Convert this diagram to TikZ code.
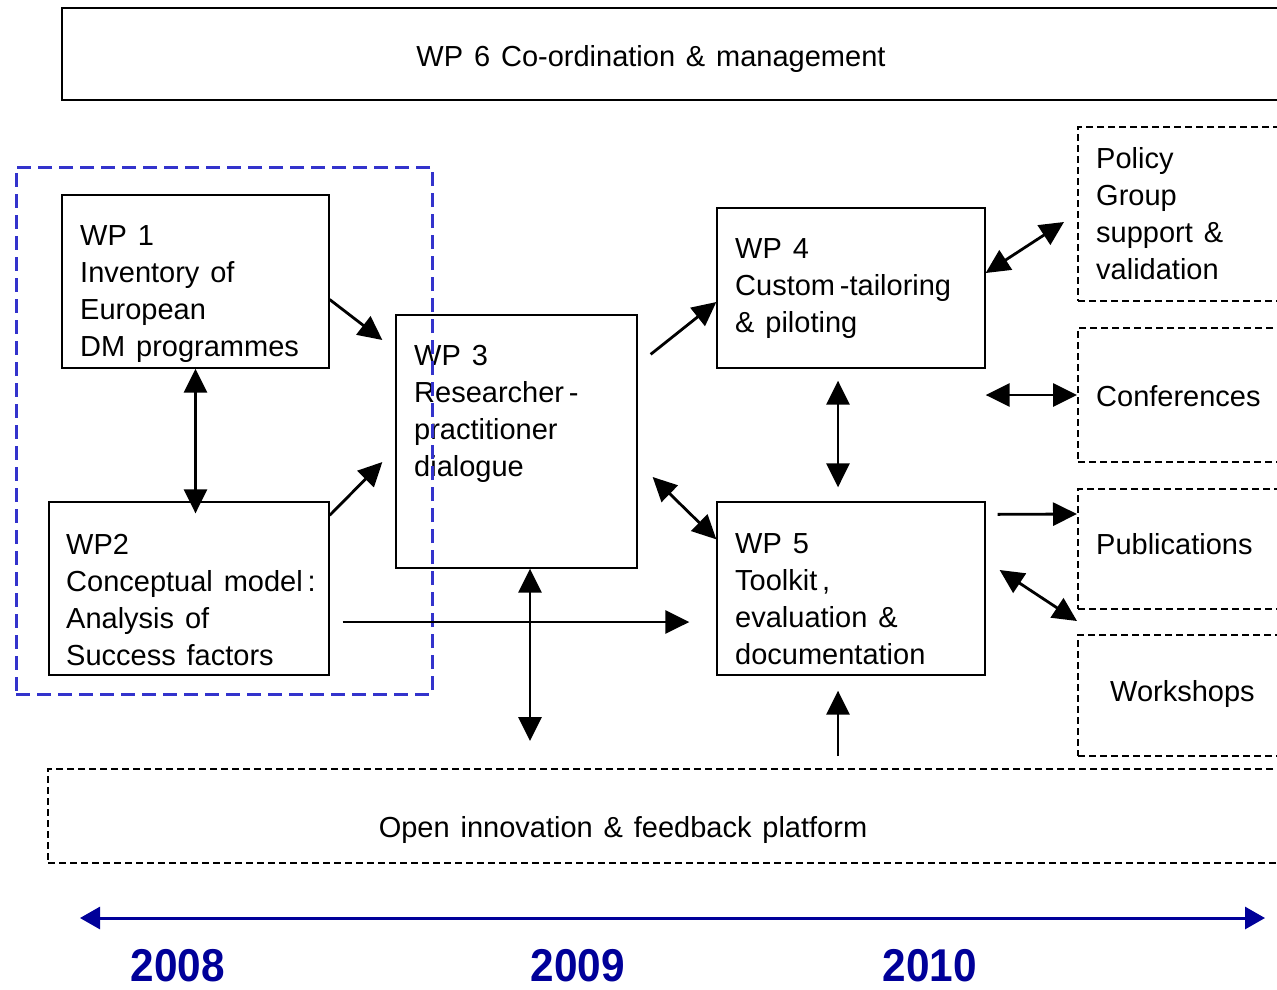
\documentclass[tikz,border=0pt]{standalone}
\usepackage{fontspec}
\setmainfont{Liberation Sans}[WordSpace=1.35]
\newfontfamily\yearfont{Liberation Sans}[FakeStretch=0.92]
\usetikzlibrary{arrows.meta, calc, positioning}
\definecolor{grpblue}{RGB}{51,51,204}
\definecolor{yearblue}{RGB}{0,0,153}
\tikzset{
  box/.style={draw, line width=1.3pt, fill=white, inner sep=0pt},
  dbox/.style={draw, line width=2pt, dash pattern=on 7pt off 4pt, inner sep=0pt},
  grpbox/.style={draw=grpblue, line width=3pt, dash pattern=on 14pt off 7pt, inner sep=0pt},
  wptext/.style={anchor=north west, inner sep=0pt, align=left, font=\fontsize{29}{37}\selectfont},
  onetext/.style={anchor=base west, inner sep=0pt, font=\fontsize{29}{37}\selectfont},
  arr/.style={line width=2.8pt, -{Triangle[length=24pt,width=23pt]}},
  darr/.style={line width=2.8pt, {Triangle[length=24pt,width=23pt]}-{Triangle[length=24pt,width=23pt]}},
  timeline/.style={draw=yearblue, line width=3pt, {Triangle[length=20pt,width=22pt]}-{Triangle[length=20pt,width=22pt]}},
  year/.style={anchor=base, inner sep=0pt, text=yearblue, font=\yearfont\bfseries\fontsize{46}{46}\selectfont}
}
\begin{document}
\begin{tikzpicture}[x=1pt,y=-1pt]
\useasboundingbox (0,0) rectangle (1277,989);
\node[box, minimum width=1228pt, minimum height=92pt] (wp6) at (676,54) {};
\node[onetext, anchor=base] (wp6txt) at (651,66.5) {WP 6 Co-ordination \& management};

\node[box, minimum width=267pt, minimum height=173pt] (wp1) at (195.5,281.5) {};
\node[wptext] (wp1txt) at (80,225) {WP 1\\Inventory of\\European\\DM programmes};
\node[box, minimum width=280pt, minimum height=173pt] (wp2) at (189,588.5) {};
\node[wptext] (wp2txt) at (66,534) {WP2\\Conceptual model\,:\\Analysis of\\Success factors};
\node[box, minimum width=241pt, minimum height=253pt] (wp3) at (516.5,441.5) {};
\node[wptext] (wp3txt) at (414,345.5) {WP 3\\Researcher\,-\\practitioner\\dialogue};
\node[box, minimum width=268pt, minimum height=160pt] (wp4) at (851,288) {};
\node[wptext] (wp4txt) at (735,238.5) {WP 4\\Custom\,-tailoring\\\& piloting};
\node[box, minimum width=268pt, minimum height=173pt] (wp5) at (851,588.5) {};
\node[wptext] (wp5txt) at (735,533.5) {WP 5\\Toolkit\,,\\evaluation \&\\documentation};

\node[grpbox, minimum width=416pt, minimum height=527pt] (grp) at (224,430.5) {};

\node[dbox, minimum width=212pt, minimum height=174pt] (policy) at (1184,214) {};
\node[wptext] (policytxt) at (1096,147.5) {Policy\\Group\\support \&\\validation};
\node[dbox, minimum width=212pt, minimum height=134pt] (conf) at (1184,395) {};
\node[onetext] (conftxt) at (1096,406.5) {Conferences};
\node[dbox, minimum width=212pt, minimum height=120pt] (publ) at (1184,549) {};
\node[onetext] (publtxt) at (1096,554.5) {Publications};
\node[dbox, minimum width=212pt, minimum height=121pt] (work) at (1184,695.5) {};
\node[onetext] (worktxt) at (1110,701.5) {Workshops};
\node[dbox, minimum width=1242pt, minimum height=94pt] (plat) at (669,816) {};
\node[onetext, anchor=base] (plattxt) at (623,837.5) {Open innovation \& feedback platform};

\draw[arr] ($(wp1.east)+(0,18)$) -- ($(wp3.west)+(-13,-101.5)$);
\draw[arr] ($(wp2.north east)+(0,14)$) -- ($(wp3.west)+(-13,20.5)$);
\draw[darr] (wp1.south) -- ($(wp1.south |- wp2.north)+(0,12)$);
\draw[arr] ($(wp2.east)+(13,33.5)$) -- ($(wp5.west)+(-27,33.5)$);
\draw[darr] ($(wp3.south)+(13.5,0)$) -- ($(wp3.south |- plat.north)+(13.5,-27)$);
\draw[arr] ($(wp3.north east)+(13,40)$) -- ($(wp4.west)+(0,14)$);
\draw[darr] ($(wp3.east)+(15,35.5)$) -- ($(wp5.north west)+(0,38)$);
\draw[darr] ($(wp4.south)+(-13,12)$) -- ($(wp5.north)+(-13,-14)$);
\draw[darr] ($(wp4.east)+(0,-15)$) -- ($(policy.west)+(-13,8)$);
\draw[darr] (wp4.south east |- conf.west) -- (conf.west);
\draw[arr] ($(wp5.north east)+(12,13)$) -- ($(publ.north west)+(0,26)$);
\draw[darr] ($(wp5.east)+(14,-18.5)$) -- ($(publ.south west)+(0,11)$);
\draw[arr] ($(plat.north -| wp5.south)+(-13,-12)$) -- ($(wp5.south)+(-13,15)$);

\coordinate (tlw) at (80,918);
\coordinate (tle) at (1265,918);
\draw[timeline] (tlw) -- (tle);
\node[year] (y2008) at (178,981) {2008};
\node[year] (y2009) at (578,981) {2009};
\node[year] (y2010) at (930,981) {2010};
\end{tikzpicture}
\end{document}
